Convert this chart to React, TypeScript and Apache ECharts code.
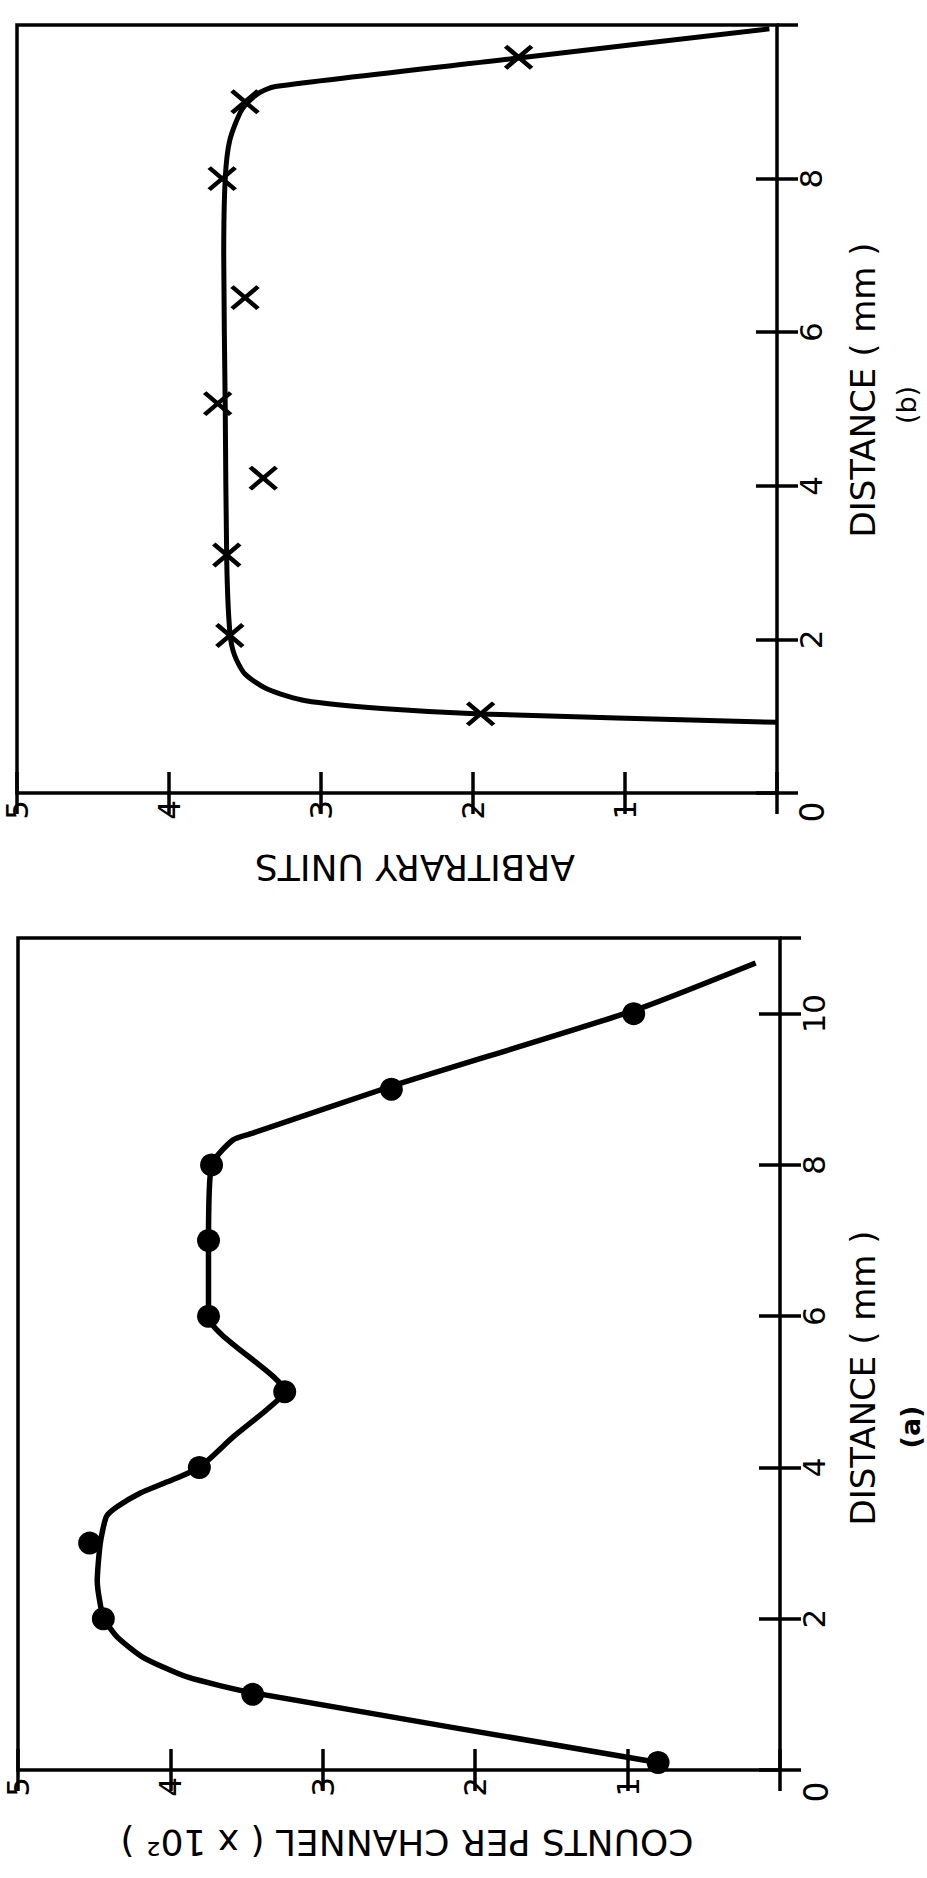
import React, { useEffect, useRef } from "react";
import * as echarts from "echarts";

const W = 927;
const H = 1878;

// ---------- Panel (a): counts per channel vs distance ----------
const aDistance = [0.1, 1.0, 2.0, 3.0, 4.0, 5.0, 6.0, 7.0, 8.0, 9.0, 10.0];
const aCounts = [0.8, 3.46, 4.44, 4.53, 3.81, 3.25, 3.75, 3.75, 3.73, 2.55, 0.96];

// fitted curve of panel (a) (counts, distance)
const aCurveCounts = [0.8, 3.46, 3.89, 4.18, 4.35, 4.44, 4.48, 4.46, 4.42, 4.35, 4.2, 4.02, 3.81, 3.59, 3.37, 3.25, 3.75, 3.75, 3.73, 3.59, 3.46, 2.55, 0.96, 0.16];
const aCurveDistance = [0.1, 1.02, 1.23, 1.49, 1.76, 2.02, 2.5, 3.0, 3.35, 3.48, 3.66, 3.81, 4.0, 4.4, 4.76, 5.0, 6.0, 7.0, 8.0, 8.33, 8.42, 9.04, 10.04, 10.67];

// ---------- Panel (b): arbitrary units vs distance ----------
const bDistance = [1.03, 2.05, 3.1, 4.1, 5.07, 6.45, 8.0, 9.0, 9.58];
const bUnits = [1.95, 3.6, 3.62, 3.38, 3.68, 3.5, 3.65, 3.5, 1.7];

const bCurveUnits = [0.0, 1.95, 2.6, 3.1, 3.35, 3.5, 3.57, 3.6, 3.62, 3.63, 3.64, 3.63, 3.6, 3.52, 3.42, 3.3, 1.7, 0.05];
const bCurveDistance = [0.92, 1.03, 1.1, 1.2, 1.35, 1.55, 1.8, 2.1, 3.0, 5.0, 7.0, 8.0, 8.5, 8.9, 9.1, 9.2, 9.57, 9.95];

// ---------- axis ticks / texts ----------
const countMin = 0;
const countMax = 5;
const countStep = 1;
const distStep = 2;
const bDistMax = 10;
const aDistMax = 11;
const distanceName = "DISTANCE ( mm )";
const aTitle = "COUNTS PER CHANNEL ( x 10² )";
const bTitle = "ARBITRARY UNITS";
const zeroText = "0";

const FONT = '"DejaVu Sans", "Liberation Sans", sans-serif';

const zip = (xs: number[], ys: number[]) => xs.map((x, i) => [x, ys[i]]);

function countAxis(gridIndex: number, position: "top" | "bottom", labels: boolean) {
  return {
    type: "value",
    gridIndex,
    position,
    min: countMin,
    max: countMax,
    interval: countStep,
    inverse: true,
    axisLine: { show: false },
    splitLine: { show: false },
    axisTick: { show: true, inside: true, length: 21, lineStyle: { color: "#000", width: 3.5 } },
    axisLabel: labels
      ? {
          show: true,
          rotate: 90,
          margin: 7,
          color: "#000",
          fontFamily: FONT,
          fontSize: 31,
          formatter: (v: number) => (v === 0 ? "" : String(v)),
        }
      : { show: false },
  };
}

function distAxis(gridIndex: number, position: "left" | "right", max: number, labels: boolean) {
  return {
    type: "value",
    gridIndex,
    position,
    min: 0,
    max,
    interval: distStep,
    axisLine: { show: false },
    splitLine: { show: false },
    axisTick: { show: true, inside: true, length: 21, lineStyle: { color: "#000", width: 3.5 } },
    axisLabel: labels
      ? {
          show: true,
          rotate: 90,
          margin: 18,
          color: "#000",
          fontFamily: FONT,
          fontSize: 31,
          showMaxLabel: false,
          formatter: (v: number) => (v === 0 || v % 2 !== 0 ? "" : String(v)),
        }
      : { show: false },
  };
}

function textEl(text: string, x: number, y: number, rotation: number, size: number, weight = "normal") {
  return {
    type: "text",
    x,
    y,
    rotation,
    silent: true,
    style: {
      text,
      font: `${weight} ${size}px ${FONT}`,
      fill: "#000",
      align: "center",
      verticalAlign: "middle",
      textAlign: "center",
      textVerticalAlign: "middle",
    },
  };
}

export default function App() {
  const ref = useRef<HTMLDivElement>(null);

  useEffect(() => {
    if (!ref.current) return;
    const chart = echarts.init(ref.current, null, { renderer: "svg" });

    const option: any = {
      animation: false,
      backgroundColor: "#fff",
      grid: [
        {
          left: 17,
          top: 25,
          width: 760,
          height: 768,
          show: true,
          borderColor: "#000",
          borderWidth: 3.5,
          backgroundColor: "transparent",
          containLabel: false,
          outerBoundsMode: "none",
        },
        {
          left: 18,
          top: 938,
          width: 762,
          height: 832,
          show: true,
          borderColor: "#000",
          borderWidth: 3.5,
          backgroundColor: "transparent",
          containLabel: false,
          outerBoundsMode: "none",
        },
      ],
      xAxis: [
        countAxis(0, "bottom", true),
        countAxis(0, "top", false),
        countAxis(1, "bottom", true),
        countAxis(1, "top", false),
      ],
      yAxis: [
        distAxis(0, "right", bDistMax, true),
        distAxis(0, "left", bDistMax, false),
        distAxis(1, "right", aDistMax, true),
        distAxis(1, "left", aDistMax, false),
      ],
      series: [
        {
          type: "line",
          xAxisIndex: 0,
          yAxisIndex: 0,
          data: zip(bCurveUnits, bCurveDistance),
          showSymbol: false,
          smooth: 0.25,
          lineStyle: { color: "#000", width: 5 },
          z: 2,
        },
        {
          type: "scatter",
          xAxisIndex: 0,
          yAxisIndex: 0,
          data: zip(bUnits, bDistance),
          symbol: "path://M0,0L26,22M26,0L0,22",
          symbolSize: [26, 22],
          itemStyle: { color: "transparent", borderColor: "#000", borderWidth: 4.5, opacity: 1 },
          z: 3,
        },
        {
          type: "line",
          xAxisIndex: 2,
          yAxisIndex: 2,
          data: zip(aCurveCounts, aCurveDistance),
          showSymbol: false,
          smooth: 0.2,
          lineStyle: { color: "#000", width: 5.5 },
          z: 2,
        },
        {
          type: "scatter",
          xAxisIndex: 2,
          yAxisIndex: 2,
          data: zip(aCounts, aDistance),
          symbol: "circle",
          symbolSize: 23,
          itemStyle: { color: "#000", opacity: 1 },
          z: 3,
        },
      ],
    };

    chart.setOption(option);

    const p0 = chart.convertToPixel({ gridIndex: 0 } as any, [0, 0]) as number[];
    const p1 = chart.convertToPixel({ gridIndex: 1 } as any, [0, 0]) as number[];

    chart.setOption({
      graphic: [
        // panel (b)
        textEl(distanceName, 863, 390, Math.PI / 2, 34),
        textEl("(b)", 906, 405, Math.PI / 2, 27),
        textEl(bTitle, 415, 867, Math.PI, 36),
        textEl(zeroText, p0[0] + 35, p0[1] + 19, Math.PI / 2, 33),
        // panel (a)
        textEl(distanceName, 863, 1378, Math.PI / 2, 34),
        textEl("(a)", 910, 1427, Math.PI / 2, 27, "bold"),
        textEl(aTitle, 407, 1842, Math.PI, 36),
        textEl(zeroText, p1[0] + 36, p1[1] + 22, Math.PI / 2, 33),
      ],
    });

    return () => chart.dispose();
  }, []);

  return (
    <div
      ref={ref}
      style={{ position: "absolute", left: 0, top: 0, width: W, height: H, background: "#fff" }}
    />
  );
}
